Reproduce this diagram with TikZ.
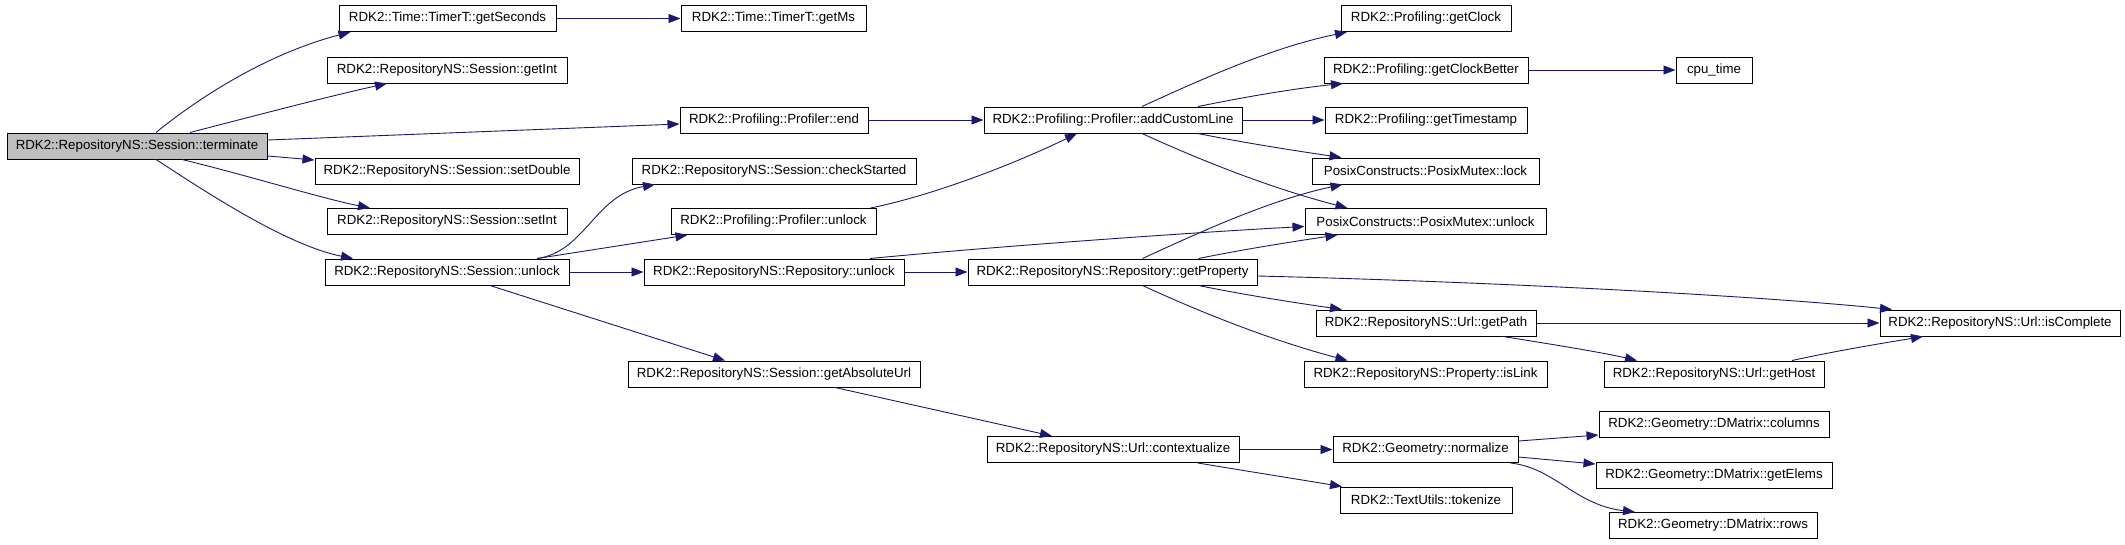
\documentclass[tikz,border=0pt]{standalone}
\usepackage{fontspec}
\setmainfont{Liberation Sans}
\usetikzlibrary{arrows.meta}
\definecolor{edgeblue}{RGB}{25,25,112}
\definecolor{termgray}{RGB}{191,191,191}
\begin{document}
\begin{tikzpicture}[x=1pt,y=-1pt,
  fn/.style={draw=black,line width=1pt,fill=white,inner sep=0pt,minimum height=26pt,
    font=\fontsize{13.3}{16}\selectfont,text=black},
  edge/.style={draw=edgeblue,line width=0.9pt,-{Triangle[length=12pt,width=9pt]}}]
\useasboundingbox[fill=white] (0,0) rectangle (2125,544);
% column 1
\node[fn,fill=termgray,minimum width=260pt] (term) at (137,146) {RDK2::RepositoryNS::Session::terminate};
% column 2
\node[fn,minimum width=217pt] (getSeconds) at (447.5,18.5) {RDK2::Time::TimerT::getSeconds};
\node[fn,minimum width=240pt] (getInt) at (447,70) {RDK2::RepositoryNS::Session::getInt};
\node[fn,minimum width=264pt] (setDouble) at (447,171) {RDK2::RepositoryNS::Session::setDouble};
\node[fn,minimum width=240pt] (setInt) at (447,221.5) {RDK2::RepositoryNS::Session::setInt};
\node[fn,minimum width=244pt] (sunlock) at (447,272) {RDK2::RepositoryNS::Session::unlock};
% column 3
\node[fn,minimum width=185pt] (getMs) at (773.5,18.5) {RDK2::Time::TimerT::getMs};
\node[fn,minimum width=188pt] (pend) at (774,120) {RDK2::Profiling::Profiler::end};
\node[fn,minimum width=284pt] (checkStarted) at (774,171) {RDK2::RepositoryNS::Session::checkStarted};
\node[fn,minimum width=205pt] (punlock) at (773.5,221.5) {RDK2::Profiling::Profiler::unlock};
\node[fn,minimum width=260pt] (runlock) at (774,272) {RDK2::RepositoryNS::Repository::unlock};
\node[fn,minimum width=292pt] (absUrl) at (774,374) {RDK2::RepositoryNS::Session::getAbsoluteUrl};
% column 4
\node[fn,minimum width=258pt] (addCustom) at (1113,120) {RDK2::Profiling::Profiler::addCustomLine};
\node[fn,minimum width=289pt] (getProperty) at (1112.5,272) {RDK2::RepositoryNS::Repository::getProperty};
\node[fn,minimum width=252pt] (contextualize) at (1113,449.5) {RDK2::RepositoryNS::Url::contextualize};
% column 5
\node[fn,minimum width=170pt] (getClock) at (1426,18.5) {RDK2::Profiling::getClock};
\node[fn,minimum width=204pt] (getClockBetter) at (1426,70) {RDK2::Profiling::getClockBetter};
\node[fn,minimum width=202pt] (getTimestamp) at (1426,120) {RDK2::Profiling::getTimestamp};
\node[fn,minimum width=227pt] (plock) at (1425.5,171) {PosixConstructs::PosixMutex::lock};
\node[fn,minimum width=241pt] (pmunlock) at (1425.5,221.5) {PosixConstructs::PosixMutex::unlock};
\node[fn,minimum width=220pt] (getPath) at (1426,323) {RDK2::RepositoryNS::Url::getPath};
\node[fn,minimum width=243pt] (isLink) at (1425.5,374) {RDK2::RepositoryNS::Property::isLink};
\node[fn,minimum width=185pt] (normalize) at (1425.5,449.5) {RDK2::Geometry::normalize};
\node[fn,minimum width=172pt] (tokenize) at (1426,500) {RDK2::TextUtils::tokenize};
% column 6
\node[fn,minimum width=76pt] (cpu) at (1714,70) {cpu\_time};
\node[fn,minimum width=220pt] (getHost) at (1714,374) {RDK2::RepositoryNS::Url::getHost};
\node[fn,minimum width=230pt] (columns) at (1714,424.5) {RDK2::Geometry::DMatrix::columns};
\node[fn,minimum width=236pt] (getElems) at (1714,475) {RDK2::Geometry::DMatrix::getElems};
\node[fn,minimum width=208pt] (rows) at (1713,525.5) {RDK2::Geometry::DMatrix::rows};
% column 7
\node[fn,minimum width=240pt] (isComplete) at (2000,323) {RDK2::RepositoryNS::Url::isComplete};

% edges from terminate
\draw[edge] ([xshift=19pt]term.north) .. controls (192,103) and (262,55) .. ([xshift=-97pt]getSeconds.south);
\draw[edge] ([xshift=53pt]term.north) .. controls (250,117) and (330,96) .. ([xshift=-60pt]getInt.south);
\draw[edge] ([yshift=6pt]term.east) -- ([yshift=-4pt]pend.west);
\draw[edge] ([yshift=-10pt]term.east) -- ([yshift=11pt]setDouble.west);
\draw[edge] ([xshift=45pt]term.south) .. controls (250,176) and (320,198) .. ([xshift=-77pt]setInt.north);
\draw[edge] ([xshift=19pt]term.south) .. controls (200,188) and (285,245) .. ([xshift=-94pt]sunlock.north);
% column 2 edges
\draw[edge] (getSeconds.east) -- (getMs.west);
\draw[edge] ([xshift=90pt]sunlock.north) .. controls (585,252) and (595,195) .. ([xshift=-119pt]checkStarted.south);
\draw[edge] ([xshift=90pt]sunlock.north) -- ([xshift=-86pt]punlock.south);
\draw[edge] (sunlock.east) -- (runlock.west);
\draw[edge] ([xshift=43pt]sunlock.south) -- ([xshift=-49pt]absUrl.north);
% column 3 edges
\draw[edge] (pend.east) -- (addCustom.west);
\draw[edge] ([xshift=97pt]punlock.north) .. controls (930,196) and (1010,166) .. ([xshift=-36pt]addCustom.south);
\draw[edge] ([xshift=96pt]runlock.north) .. controls (1000,246) and (1200,232) .. ([yshift=-5pt]pmunlock.west);
\draw[edge] (runlock.east) -- (getProperty.west);
\draw[edge] ([xshift=61pt]absUrl.south) -- ([xshift=-61pt]contextualize.north);
% column 4 edges
\draw[edge] ([xshift=29pt]addCustom.north) .. controls (1200,80) and (1270,48) .. ([xshift=-79pt]getClock.south);
\draw[edge] ([xshift=85pt]addCustom.north) .. controls (1240,98) and (1290,89) .. ([xshift=-83pt]getClockBetter.south);
\draw[edge] (addCustom.east) -- (getTimestamp.west);
\draw[edge] ([xshift=85pt]addCustom.south) .. controls (1240,142) and (1290,150) .. ([xshift=-84pt]plock.north);
\draw[edge] ([xshift=29pt]addCustom.south) .. controls (1200,160) and (1270,188) .. ([xshift=-78pt]pmunlock.north);
\draw[edge] ([xshift=30pt]getProperty.north) .. controls (1200,232) and (1270,200) .. ([xshift=-83pt]plock.south);
\draw[edge] ([xshift=86pt]getProperty.north) .. controls (1240,250) and (1290,242) .. ([xshift=-88pt]pmunlock.south);
\draw[edge] ([yshift=-4pt]getProperty.east) .. controls (1500,282) and (1760,296) .. ([xshift=-108pt]isComplete.north);
\draw[edge] ([xshift=86pt]getProperty.south) .. controls (1240,294) and (1290,302) .. ([xshift=-84pt]getPath.north);
\draw[edge] ([xshift=30pt]getProperty.south) .. controls (1200,312) and (1270,340) .. ([xshift=-78pt]isLink.north);
\draw[edge] (contextualize.east) -- (normalize.west);
\draw[edge] ([xshift=85pt]contextualize.south) .. controls (1240,470) and (1290,478) .. ([xshift=-84pt]tokenize.north);
% column 5 edges
\draw[edge] (getClockBetter.east) -- (cpu.west);
\draw[edge] (getPath.east) -- (isComplete.west);
\draw[edge] ([xshift=77pt]getPath.south) .. controls (1550,344) and (1600,352) .. ([xshift=-77pt]getHost.north);
\draw[edge] ([xshift=78pt]getHost.north) .. controls (1840,350) and (1890,342) .. ([xshift=-77pt]isComplete.south);
\draw[edge] ([yshift=8.5pt]normalize.east) -- ([yshift=-10.5pt]columns.west);
\draw[edge] ([yshift=-7.5pt]normalize.east) -- ([yshift=11pt]getElems.west);
\draw[edge] ([xshift=85pt]normalize.south) .. controls (1555,468) and (1575,505) .. ([xshift=-78pt]rows.north);
\end{tikzpicture}
\end{document}
